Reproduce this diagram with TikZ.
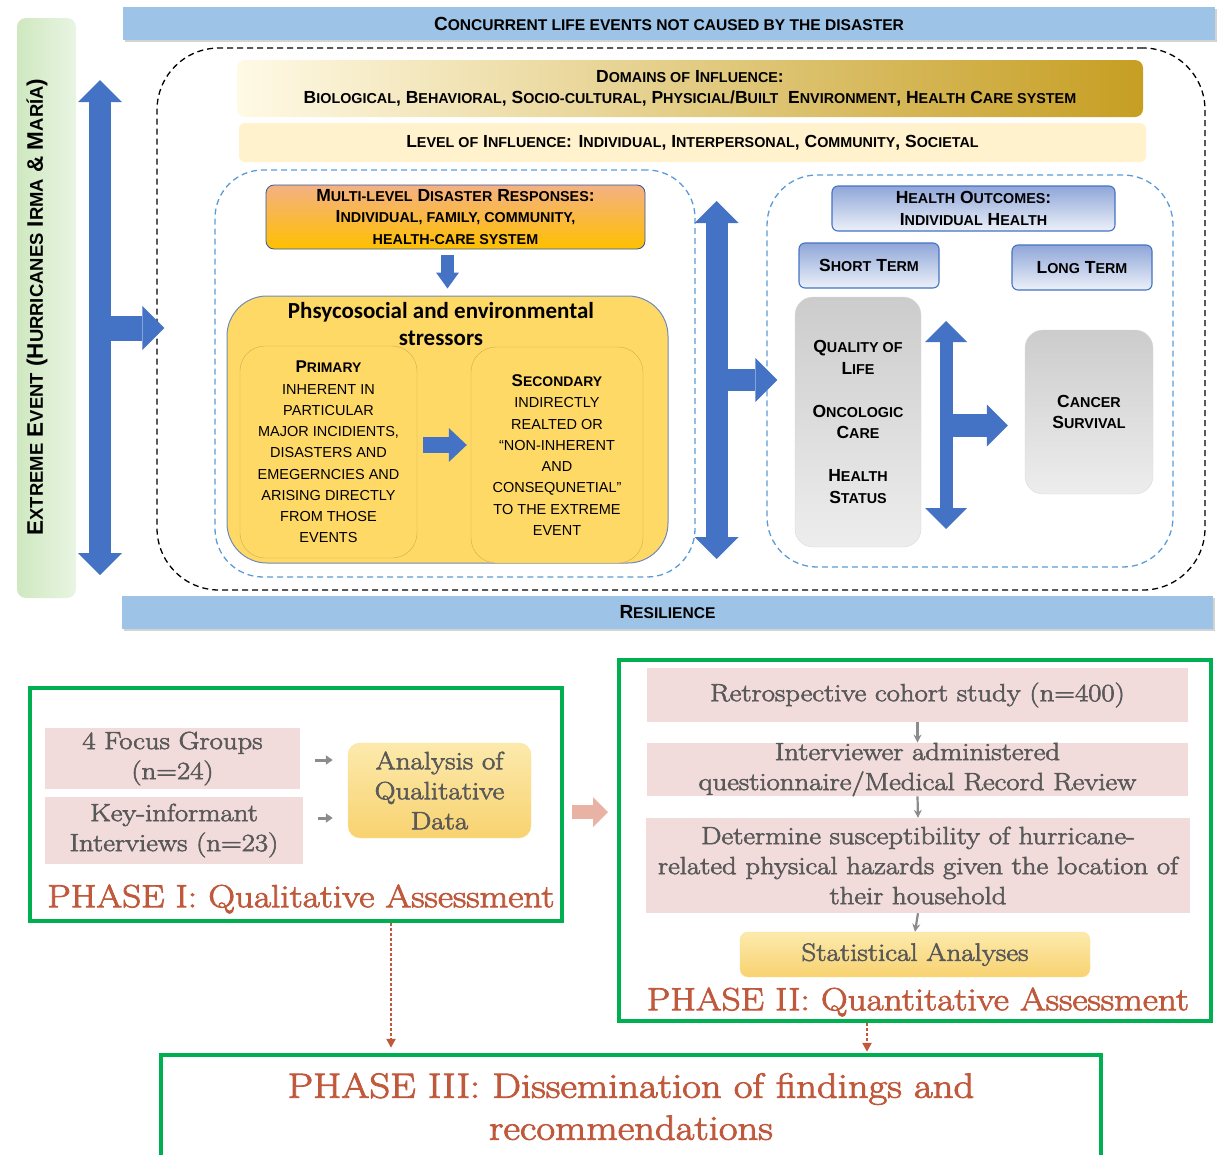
\documentclass[tikz,border=0pt]{standalone}
\usepackage{fontspec}
\usepackage{graphicx}
\usepackage{xcolor}
\usetikzlibrary{arrows.meta,positioning,shadows}

\newfontfamily\arialfont{Liberation Sans}
\newfontfamily\calibrifont{Carlito}
\newfontfamily\bookfont[FakeStretch=1.16, FakeBold=2.5]{Latin Modern Roman}

\definecolor{bandblue}{HTML}{9DC3E6}
\definecolor{arrblue}{HTML}{4472C4}
\definecolor{dashblue}{HTML}{5B9BD5}
\definecolor{stressy}{HTML}{FFD966}
\definecolor{phgreen}{HTML}{00B050}
\definecolor{phred}{HTML}{C0593B}
\definecolor{boxpink}{HTML}{F2DCDB}
\definecolor{txtgray}{HTML}{595959}
\definecolor{outtop}{HTML}{8FA6D8}
\definecolor{bandgreenL}{HTML}{CFE8C0}
\definecolor{bandgreenR}{HTML}{E9F5E3}
\definecolor{domL}{HTML}{FFFAE6}
\definecolor{domM}{HTML}{EFD98A}
\definecolor{domR}{HTML}{C69E22}
\definecolor{levelfill}{HTML}{FFF2CC}
\definecolor{respline}{HTML}{2F5597}
\definecolor{resptop}{HTML}{F4B183}
\definecolor{respbot}{HTML}{FFC000}
\definecolor{stressline}{HTML}{6F8AB7}
\definecolor{anline}{HTML}{FBE39A}
\definecolor{antop}{HTML}{FCEAAC}
\definecolor{anbot}{HTML}{F8D270}
\definecolor{pinkarr}{HTML}{E8B3A4}

% fake small caps for the sans labels
\newcommand\smc[1]{\scalebox{0.82}{#1}}

\begin{document}
\begin{tikzpicture}[x=1pt, y=-1pt,
    sctext/.style={font=\arialfont\bfseries\fontsize{17.5}{21.5}\selectfont, align=center, inner sep=0pt},
    band/.style={sctext, font=\arialfont\bfseries\fontsize{19}{21.5}\selectfont, rectangle, fill=bandblue, minimum height=33pt, drop shadow={opacity=0.35, shadow xshift=1.5pt, shadow yshift=-2pt}},
    zone/.style={draw=dashblue, dashed, dash pattern=on 6pt off 4pt, line width=1.3pt, rounded corners=48pt, inner sep=0pt},
    outcome/.style={sctext, draw=arrblue, line width=1.1pt, top color=outtop, bottom color=white!90!arrblue, rounded corners=6pt},
    greybox/.style={sctext, draw=black!15, top color=black!20, bottom color=black!7, rounded corners=18pt},
    subbox/.style={draw=black!20!stressy, fill=stressy, rounded corners=25pt, align=center, inner sep=0pt, font=\arialfont\fontsize{14.5}{21.25}\selectfont},
    pinkbox/.style={fill=boxpink, text=txtgray, align=center, inner sep=0pt, font=\bookfont\fontsize{24.8}{30}\selectfont},
    anbox/.style={draw=anline, top color=antop, bottom color=anbot, text=txtgray, rounded corners=12pt, align=center, inner sep=0pt, font=\bookfont\fontsize{25}{30}\selectfont},
    phase/.style={draw=phgreen, line width=4pt},
    phlabel/.style={text=phred, inner sep=0pt, font=\bookfont\fontsize{32}{38}\selectfont},
    bigtip/.tip={Triangle[width=44pt, length=22pt, line width=0pt]},
    midtip/.tip={Triangle[width=42pt, length=21pt, line width=0pt]},
    smalltip/.tip={Triangle[width=23pt, length=16pt, line width=0pt]},
    sidetip/.tip={Triangle[width=34pt, length=18pt, line width=0pt]},
    blk/.style={draw=arrblue, line width=22pt},
    garrow/.style={draw=black!45, line width=2.2pt, -{Stealth[length=8pt, width=8pt]}},
    dotarrow/.style={draw=phred, line width=2.5pt, dash pattern=on 2.5pt off 2.5pt, -{Triangle[length=9pt, width=9pt]}}
]
\useasboundingbox (0,0) rectangle (1225,1154);

% Context bands
\node[band, minimum width=1092pt] (concur) at (669,23.5) {C\smc{ONCURRENT LIFE EVENTS NOT CAUSED BY THE DISASTER}};
\node[band, minimum width=1091pt] (resil) at (667.5,612.5) {R\smc{ESILIENCE}};
\node[rectangle, rounded corners=9pt, left color=bandgreenL, right color=bandgreenR, minimum width=59pt, minimum height=580pt, inner sep=0pt] (xband) at (46.5,308) {};
\node[sctext, rotate=90, font=\arialfont\bfseries\fontsize{22.5}{24}\selectfont] (xtext) at (37,307) {E\smc{XTREME} E\smc{VENT} (H\smc{URRICANES} I\smc{RMA} \& M\smc{ARÍA})};

% Outer frame and influence bars
\node[draw, dash pattern=on 6pt off 4pt, line width=1.3pt, rounded corners=62pt, minimum width=1048pt, minimum height=542pt] (outer) at (681,319) {};
\node[sctext, left color=domL, middle color=domM, right color=domR, rounded corners=8pt, minimum width=906pt, minimum height=57pt] (domain) at (690,88.5)
    {D\smc{OMAINS OF} I\smc{NFLUENCE}:\\B\smc{IOLOGICAL}, B\smc{EHAVIORAL}, S\smc{OCIO-CULTURAL}, P\smc{HYSICIAL}/B\smc{UILT}\ \ E\smc{NVIRONMENT}, H\smc{EALTH} C\smc{ARE SYSTEM}};
\node[sctext, fill=levelfill, rounded corners=6pt, minimum width=907pt, minimum height=39pt] (level) at (692.5,142.5)
    {L\smc{EVEL OF} I\smc{NFLUENCE}: I\smc{NDIVIDUAL}, I\smc{NTERPERSONAL}, C\smc{OMMUNITY}, S\smc{OCIETAL}};

% Disaster responses and stressors
\node[zone, minimum width=480pt, minimum height=407pt] (leftzone) at (455,373.5) {};
\node[sctext, draw=respline, line width=0.8pt, top color=resptop, bottom color=respbot, rounded corners=8pt, minimum width=379pt, minimum height=64pt] (respond) at (455.5,217)
    {M\smc{ULTI-LEVEL} D\smc{ISASTER} R\smc{ESPONSES}:\\I\smc{NDIVIDUAL, FAMILY, COMMUNITY,}\\\smc{HEALTH-CARE SYSTEM}};
\node[draw=stressline, line width=1pt, fill=stressy, rounded corners=40pt, minimum width=441pt, minimum height=267pt] (stress) at (447.5,429.5) {};
\node[font=\calibrifont\bfseries\fontsize{23}{27}\selectfont, align=center, inner sep=0pt] (stitle) at (441,324.5) {Phsycosocial and environmental\\stressors};
\node[subbox, minimum width=177pt, minimum height=212pt] (prim) at (328.5,452)
    {{\fontsize{17}{21.25}\selectfont\bfseries P\smc{RIMARY}}\\INHERENT IN\\PARTICULAR\\MAJOR INCIDIENTS,\\DISASTERS AND\\EMEGERNCIES AND\\ARISING DIRECTLY\\FROM THOSE\\EVENTS};
\node[subbox, minimum width=172pt, minimum height=216pt] (sec) at (557,455)
    {{\fontsize{17}{21.25}\selectfont\bfseries S\smc{ECONDARY}}\\INDIRECTLY\\REALTED OR\\“NON-INHERENT\\AND\\CONSEQUNETIAL”\\TO THE EXTREME\\EVENT};
\draw[blk, line width=13pt, arrows={-smalltip}, shorten <=6pt, shorten >=7pt] (respond.south -| stress.north) -- (stress.north);
\draw[blk, line width=16pt, arrows={-sidetip}, shorten <=6pt, shorten >=4pt] ([yshift=7pt]prim.east) -- ([yshift=7pt]prim.east -| sec.west);

% Health outcomes
\node[zone, rounded corners=50pt, minimum width=406pt, minimum height=392pt] (rightzone) at (970,371) {};
\node[outcome, minimum width=283pt, minimum height=45pt] (health) at (973.5,208.5) {H\smc{EALTH} O\smc{UTCOMES}:\\I\smc{NDIVIDUAL} H\smc{EALTH}};
\node[outcome, minimum width=140pt, minimum height=45pt] (short) at (869,265.5) {S\smc{HORT} T\smc{ERM}};
\node[outcome, minimum width=140pt, minimum height=45pt] (long) at (1082,267.5) {L\smc{ONG} T\smc{ERM}};
\node[greybox, minimum width=126pt, minimum height=250pt] (quality) at (858,422)
    {Q\smc{UALITY OF}\\L\smc{IFE}\\[21.5pt]O\smc{NCOLOGIC}\\C\smc{ARE}\\[21.5pt]H\smc{EALTH}\\S\smc{TATUS}};
\node[greybox, minimum width=128pt, minimum height=164pt] (cancer) at (1089,412) {C\smc{ANCER}\\S\smc{URVIVAL}};

% Block arrows
\coordinate (xtop) at (100,80);
\coordinate (xbot) at (100,575);
\coordinate (xmid) at (100,328);
\draw[blk, arrows={bigtip-bigtip}] (xtop) -- (xbot);
\draw[blk, line width=25pt, arrows={-bigtip}] (xmid) -- ([xshift=8pt]xmid -| outer.west);
\coordinate (mtop) at (716.5,201);
\coordinate (mbot) at (716.5,559);
\coordinate (mmid) at (716.5,380);
\draw[blk, arrows={bigtip-bigtip}] (mtop) -- (mbot);
\draw[blk, arrows={-bigtip}] (mmid) -- ([xshift=11pt]mmid -| rightzone.west);
\coordinate (stop) at (946,321);
\coordinate (sbot) at (946,529);
\coordinate (smid) at (946,425.5);
\draw[blk, line width=13pt, arrows={midtip-midtip}] (stop) -- (sbot);
\draw[blk, line width=23pt, arrows={-midtip}] (smid) -- ([xshift=-17pt]smid -| cancer.west);

% Phase I
\node[phase, minimum width=532pt, minimum height=233pt] (p1) at (296,804.5) {};
\node[pinkbox, minimum width=255pt, minimum height=61pt] (focus) at (172.5,758.5) {4 Focus Groups\\(n=24)};
\node[pinkbox, minimum width=258pt, minimum height=67pt] (keyinf) at (174,830.5) {Key-informant\\Interviews (n=23)};
\node[anbox, minimum width=183pt, minimum height=95pt] (analysis) at (439.5,790.5) {Analysis of\\Qualitative\\Data};
\node[phlabel] (lab1) at (301,899) {PHASE I: Qualitative Assessment};
\draw[garrow, line width=3pt, -{Triangle[length=7pt, width=9pt]}, shorten <=15pt, shorten >=15pt] ([yshift=-1.5pt]focus.east) -- ([yshift=-1.5pt]focus.east -| analysis.west);
\draw[garrow, line width=3pt, -{Triangle[length=7pt, width=9pt]}, shorten <=15pt, shorten >=15pt] ([yshift=12.5pt]keyinf.east) -- ([yshift=12.5pt]keyinf.east -| analysis.west);

% Phase II
\node[phase, minimum width=592pt, minimum height=361pt] (p2) at (915,840.5) {};
\node[pinkbox, minimum width=541pt, minimum height=54pt] (retro) at (917.5,695) {Retrospective cohort study (n=400)};
\node[pinkbox, minimum width=541pt, minimum height=53pt] (interv) at (917.5,769.5) {Interviewer administered\\questionnaire/Medical Record Review};
\node[pinkbox, minimum width=544pt, minimum height=95pt] (determ) at (918,865.5) {Determine susceptibility of hurricane-\\related physical hazards given the location of\\their household};
\node[anbox, rounded corners=8pt, minimum width=350pt, minimum height=45pt] (stats) at (915,954.5) {Statistical Analyses};
\node[phlabel] (lab2) at (918,1002) {PHASE II: Quantitative Assessment};
\draw[garrow] (retro.south) -- (interv.north);
\draw[garrow] (interv.south) -- (determ.north);
\draw[garrow] (determ.south) -- (stats.north);

% Phase I to Phase II
\draw[draw=pinkarr, line width=14pt, arrows={-{Triangle[width=30pt, length=15pt, line width=0pt]}}, shorten <=8pt, shorten >=9pt] ([yshift=-7.5pt]p1.east) -- ([yshift=-7.5pt]p1.east -| p2.west);

% Phase III
\node[phlabel, font=\bookfont\fontsize{35}{42}\selectfont, align=center, minimum width=940pt, minimum height=103pt] (p3) at (631,1106.5) {PHASE III: Dissemination of findings and\\recommendations};
\draw[phase] (p3.south west) -- (p3.north west) -- (p3.north east) -- (p3.south east);
\draw[dotarrow, shorten >=7pt] ([xshift=95pt]p1.south) -- ([xshift=95pt]p1.south |- p3.north);
\draw[dotarrow, shorten >=3pt] ([xshift=-48pt]p2.south) -- ([xshift=-48pt]p2.south |- p3.north);

\end{tikzpicture}
\end{document}
